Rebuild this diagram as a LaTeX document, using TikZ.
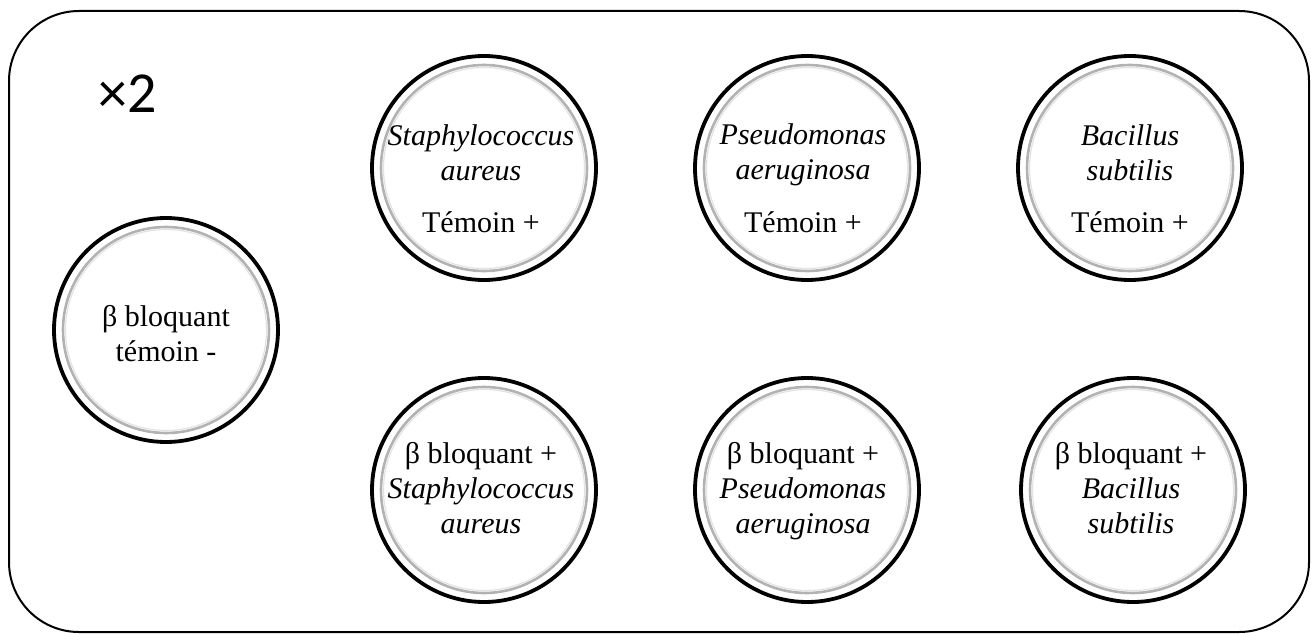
\documentclass[tikz,border=0pt]{standalone}
\usepackage{fontspec}
\setmainfont{Liberation Serif}
\newfontfamily\calfont{Carlito}
\begin{document}
\begin{tikzpicture}[x=1pt,y=-1pt,
  dish/.style={circle,draw=black,line width=3.8pt,minimum size=224pt,inner sep=0pt},
  ringa/.style={draw=gray!60,line width=2.6pt},
  ringb/.style={draw=gray!22,line width=1.2pt},
  lbl/.style={font=\fontsize{30}{35}\selectfont,align=center,inner sep=0pt,anchor=base},
  frame/.style={draw=black,line width=2pt,rounded corners=70pt}]
\useasboundingbox (0,0) rectangle (1311,634);
\draw[frame] (9,11) rectangle (1309,632);
\node[font=\calfont\fontsize{58}{60}\selectfont,anchor=base west,inner sep=0pt] (x2) at (98,112) {×2};
% dishes
\foreach \n/\cx/\cy in {L/166/330, A/484/168, B/807/168, C/1130/168, D/484/490, E/807/490, F/1133/490}{
  \node[dish] (\n) at (\cx,\cy) {};
  \draw[ringa] (\n.center) circle (103);
  \draw[ringb] (\n.center) circle (100.5);
}
% texts (base = baseline of last line)
\node[lbl] (tL) at ([shift={(0,31)}]L.center) {β bloquant\\témoin -};
\node[lbl] (tA) at ([shift={(-3,12)}]A.center) {\itshape Staphylococcus\\\itshape aureus};
\node[lbl] (tA2) at ([shift={(-3,64)}]A.center) {Témoin +};
\node[lbl] (tB) at ([shift={(-4,11)}]B.center) {\itshape Pseudomonas\\\itshape aeruginosa};
\node[lbl] (tB2) at ([shift={(-4,64)}]B.center) {Témoin +};
\node[lbl] (tC) at ([shift={(0,12)}]C.center) {\itshape Bacillus\\\itshape subtilis};
\node[lbl] (tC2) at ([shift={(0,64)}]C.center) {Témoin +};
\node[lbl] (tD) at ([shift={(-3,43)}]D.center) {β bloquant +\\\itshape Staphylococcus\\\itshape aureus};
\node[lbl] (tE) at ([shift={(-4,43)}]E.center) {β bloquant +\\\itshape Pseudomonas\\\itshape aeruginosa};
\node[lbl] (tF) at ([shift={(-2,43)}]F.center) {β bloquant +\\\itshape Bacillus\\\itshape subtilis};
\end{tikzpicture}
\end{document}
